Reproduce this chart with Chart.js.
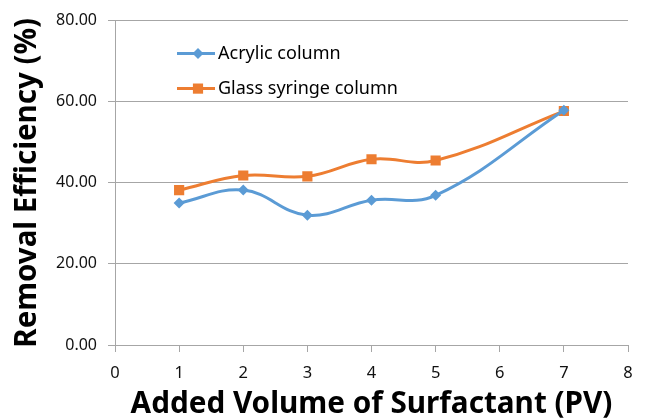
<!DOCTYPE html>
<html><head><meta charset="utf-8">
<script src="https://cdn.jsdelivr.net/npm/chart.js@4"></script>
<style>html,body{margin:0;padding:0;background:#fff}#wrap{width:650px;height:420px}</style>
</head><body><div id="wrap"><canvas id="c" width="650" height="420"></canvas></div>
<script>
const xValues = [1, 2, 3, 4, 5, 7];
const acrylicValues = [35.0, 38.2, 32.0, 35.7, 36.9, 57.9];
const glassValues = [38.2, 41.8, 41.6, 45.8, 45.5, 57.7];
const seriesNames = ['Acrylic column', 'Glass syringe column'];
const xTitle = 'Added Volume of Surfactant (PV)';
const yTitle = 'Removal Efficiency (%)';
const xTickRange = [0, 8];
const yTickRange = [0, 80];

const BLUE = '#5B9BD5', ORANGE = '#ED7D31', GRID = '#a6a6a6';
const FONT = '"Noto Sans", sans-serif';

function pts(vals) { return xValues.map((x, i) => ({ x: x, y: vals[i] })); }

const insideLegend = {
  id: 'insideLegend',
  afterDatasetsDraw(chart) {
    const ctx = chart.ctx, a = chart.chartArea;
    chart.data.datasets.forEach((ds, i) => {
      const y = a.top + 33 + i * 35;
      const x0 = a.left + 62, x1 = a.left + 100;
      ctx.save();
      ctx.strokeStyle = ds.borderColor; ctx.lineWidth = 3;
      ctx.beginPath(); ctx.moveTo(x0, y); ctx.lineTo(x1, y); ctx.stroke();
      ctx.fillStyle = ds.pointBackgroundColor;
      Chart.helpers.drawPoint(ctx, { pointStyle: ds.pointStyle, radius: ds.pointRadius, rotation: 0, borderWidth: 0 }, (x0 + x1) / 2 + 2, y);
      ctx.font = '18px ' + FONT; ctx.fillStyle = '#000';
      ctx.textBaseline = 'middle'; ctx.textAlign = 'left';
      ctx.fillText(ds.label, x1 + 3, y);
      ctx.restore();
    });
  }
};

new Chart(document.getElementById('c'), {
  type: 'line',
  data: {
    datasets: [
      { label: seriesNames[0], data: pts(acrylicValues), borderColor: BLUE, backgroundColor: BLUE,
        pointBackgroundColor: BLUE, pointBorderColor: BLUE, pointBorderWidth: 0,
        pointStyle: 'rectRot', pointRadius: 5.5, borderWidth: 3, tension: 0.4, fill: false },
      { label: seriesNames[1], data: pts(glassValues), borderColor: ORANGE, backgroundColor: ORANGE,
        pointBackgroundColor: ORANGE, pointBorderColor: ORANGE, pointBorderWidth: 0,
        pointStyle: 'rect', pointRadius: 7.2, borderWidth: 3, tension: 0.4, fill: false }
    ]
  },
  options: {
    responsive: false, animation: false, devicePixelRatio: 1,
    layout: { padding: { top: 20, right: 22, left: 0, bottom: 0 } },
    plugins: { legend: { display: false }, tooltip: { enabled: false } },
    scales: {
      x: {
        type: 'linear', min: xTickRange[0], max: xTickRange[1],
        afterFit(s) { s.height = 75; },
        ticks: { stepSize: 1, padding: 11, color: '#111', font: { family: FONT, size: 16.5 }, maxRotation: 0 },
        grid: { drawOnChartArea: false, drawTicks: true, tickLength: 7, color: GRID },
        border: { display: true, color: GRID, width: 1 },
        title: { display: true, text: xTitle, color: '#000', padding: { top: 0, bottom: 1 },
                 font: { family: FONT, size: 29.7, weight: 'bold', lineHeight: 1 } }
      },
      y: {
        min: yTickRange[0], max: yTickRange[1],
        afterFit(s) { s.width = 115; },
        ticks: { stepSize: 20, padding: 11, color: '#111', font: { family: FONT, size: 16 },
                 callback: v => Number(v).toFixed(2) },
        grid: { drawOnChartArea: true, drawTicks: true, tickLength: 7, color: GRID },
        border: { display: true, color: GRID, width: 1 },
        title: { display: true, text: yTitle, color: '#000', padding: { top: 13, bottom: 0 },
                 font: { family: FONT, size: 29.5, weight: 'bold', lineHeight: 1 } }
      }
    }
  },
  plugins: [insideLegend]
});
</script></body></html>
